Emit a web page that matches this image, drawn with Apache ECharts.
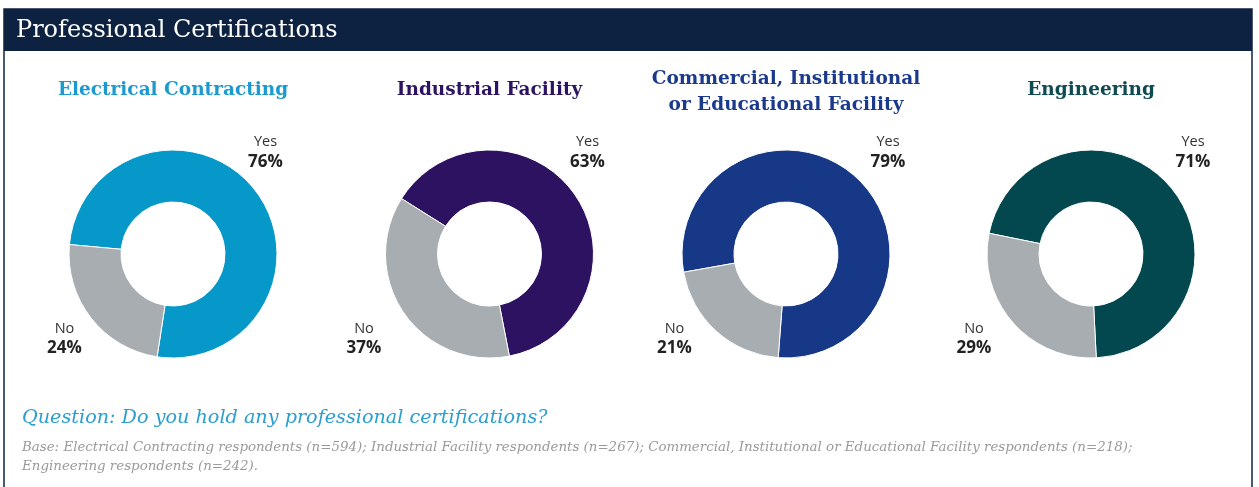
<!DOCTYPE html>
<html>
<head>
<meta charset="utf-8">
<script src="https://cdn.jsdelivr.net/npm/echarts@6/dist/echarts.min.js"></script>
<style>
  html, body { margin: 0; padding: 0; background: #fff; }
  #chart { width: 1259px; height: 487px; }
</style>
</head>
<body>
<div id="chart"></div>
<script>
// Survey results: share of respondents holding a professional certification
const groups = [
  'Electrical Contracting',
  'Industrial Facility',
  'Commercial, Institutional\nor Educational Facility',
  'Engineering'
];
const answers = ['Yes', 'No'];
const yesShare = [76, 63, 79, 71];
const noShare = [24, 37, 21, 29];

const heading = 'Professional Certifications';
const question = 'Question: Do you hold any professional certifications?';
const baseNote = [
  'Base: Electrical Contracting respondents (n=594); Industrial Facility respondents (n=267); Commercial, Institutional or Educational Facility respondents (n=218);',
  'Engineering respondents (n=242).'
];

// Layout and styling for each donut
const centers = [[173, 254], [489.5, 254], [786, 254], [1091, 254]];
const startAngles = [174.8, 147.8, 190.1, 168.5];
const yesColors = ['#0798ca', '#2d1262', '#163886', '#03474f'];
const titleColors = ['#1b9ad0', '#2d1463', '#1b3a8c', '#0e4b50'];
const noColor = '#a7adb0';
const navy = '#0d2241';
// label anchor offsets from each donut centre: [Yes, No]
const labelAnchors = [
  [[92.5, -102], [-108.5, 84.5]],
  [[98, -102], [-125.5, 84.5]],
  [[102, -102], [-111.5, 84.5]],
  [[102, -102], [-117, 84.5]]
];

const chart = echarts.init(document.getElementById('chart'), null, { renderer: 'canvas' });

const series = groups.map((g, i) => ({
  type: 'pie',
  name: g,
  center: centers[i],
  radius: [52, 104],
  startAngle: startAngles[i],
  clockwise: true,
  avoidLabelOverlap: false,
  animation: false,
  silent: true,
  itemStyle: { borderColor: '#ffffff', borderWidth: 1 },
  label: {
    show: true,
    position: 'outside',
    formatter: p => '{n|' + p.name + '}\n{v|' + p.value + '%}',
    rich: {
      n: { fontFamily: 'Open Sans', fontSize: 14.5, color: '#333333', lineHeight: 20, align: 'center' },
      v: { fontFamily: 'Open Sans', fontSize: 17, fontWeight: 'bold', color: '#222222', lineHeight: 20, align: 'center' }
    }
  },
  labelLine: { show: false },
  labelLayout: p => {
    const a = labelAnchors[i][p.dataIndex];
    return { x: centers[i][0] + a[0], y: centers[i][1] + a[1], align: 'center', verticalAlign: 'middle' };
  },
  data: [
    { name: answers[0], value: yesShare[i], itemStyle: { color: yesColors[i] } },
    { name: answers[1], value: noShare[i], itemStyle: { color: noColor } }
  ]
}));

const graphics = [
  // frame sides
  { type: 'rect', shape: { x: 4, y: 9, width: 1248, height: 500 }, style: { fill: 'none', stroke: navy, lineWidth: 1.5 }, silent: true },
  // heading bar
  { type: 'rect', shape: { x: 4, y: 9, width: 1248, height: 42 }, style: { fill: navy }, silent: true },
  { type: 'text', x: 16, y: 31, style: { text: heading, fill: '#ffffff', font: '24px "DejaVu Serif"', textVerticalAlign: 'middle' }, silent: true },
  // question and base
  { type: 'text', x: 22, y: 418, style: { text: question, fill: '#2a9ed0', font: 'italic 19.2px "DejaVu Serif"', textVerticalAlign: 'middle' }, silent: true },
  { type: 'text', x: 22, y: 448, style: { text: baseNote[0], fill: '#9a9a9a', font: 'italic 13.4px "DejaVu Serif"', textVerticalAlign: 'middle' }, silent: true },
  { type: 'text', x: 22, y: 467, style: { text: baseNote[1], fill: '#9a9a9a', font: 'italic 13.4px "DejaVu Serif"', textVerticalAlign: 'middle' }, silent: true }
];

groups.forEach((g, i) => {
  const twoLines = g.indexOf('\n') >= 0;
  graphics.push({
    type: 'text',
    x: centers[i][0],
    y: twoLines ? 92 : 90,
    silent: true,
    style: {
      text: g,
      fill: titleColors[i],
      font: 'bold 18.5px "DejaVu Serif"',
      textAlign: 'center',
      textVerticalAlign: 'middle',
      lineHeight: 26
    }
  });
});

chart.setOption({
  animation: false,
  backgroundColor: '#ffffff',
  series: series,
  graphic: graphics
});
</script>
</body>
</html>
